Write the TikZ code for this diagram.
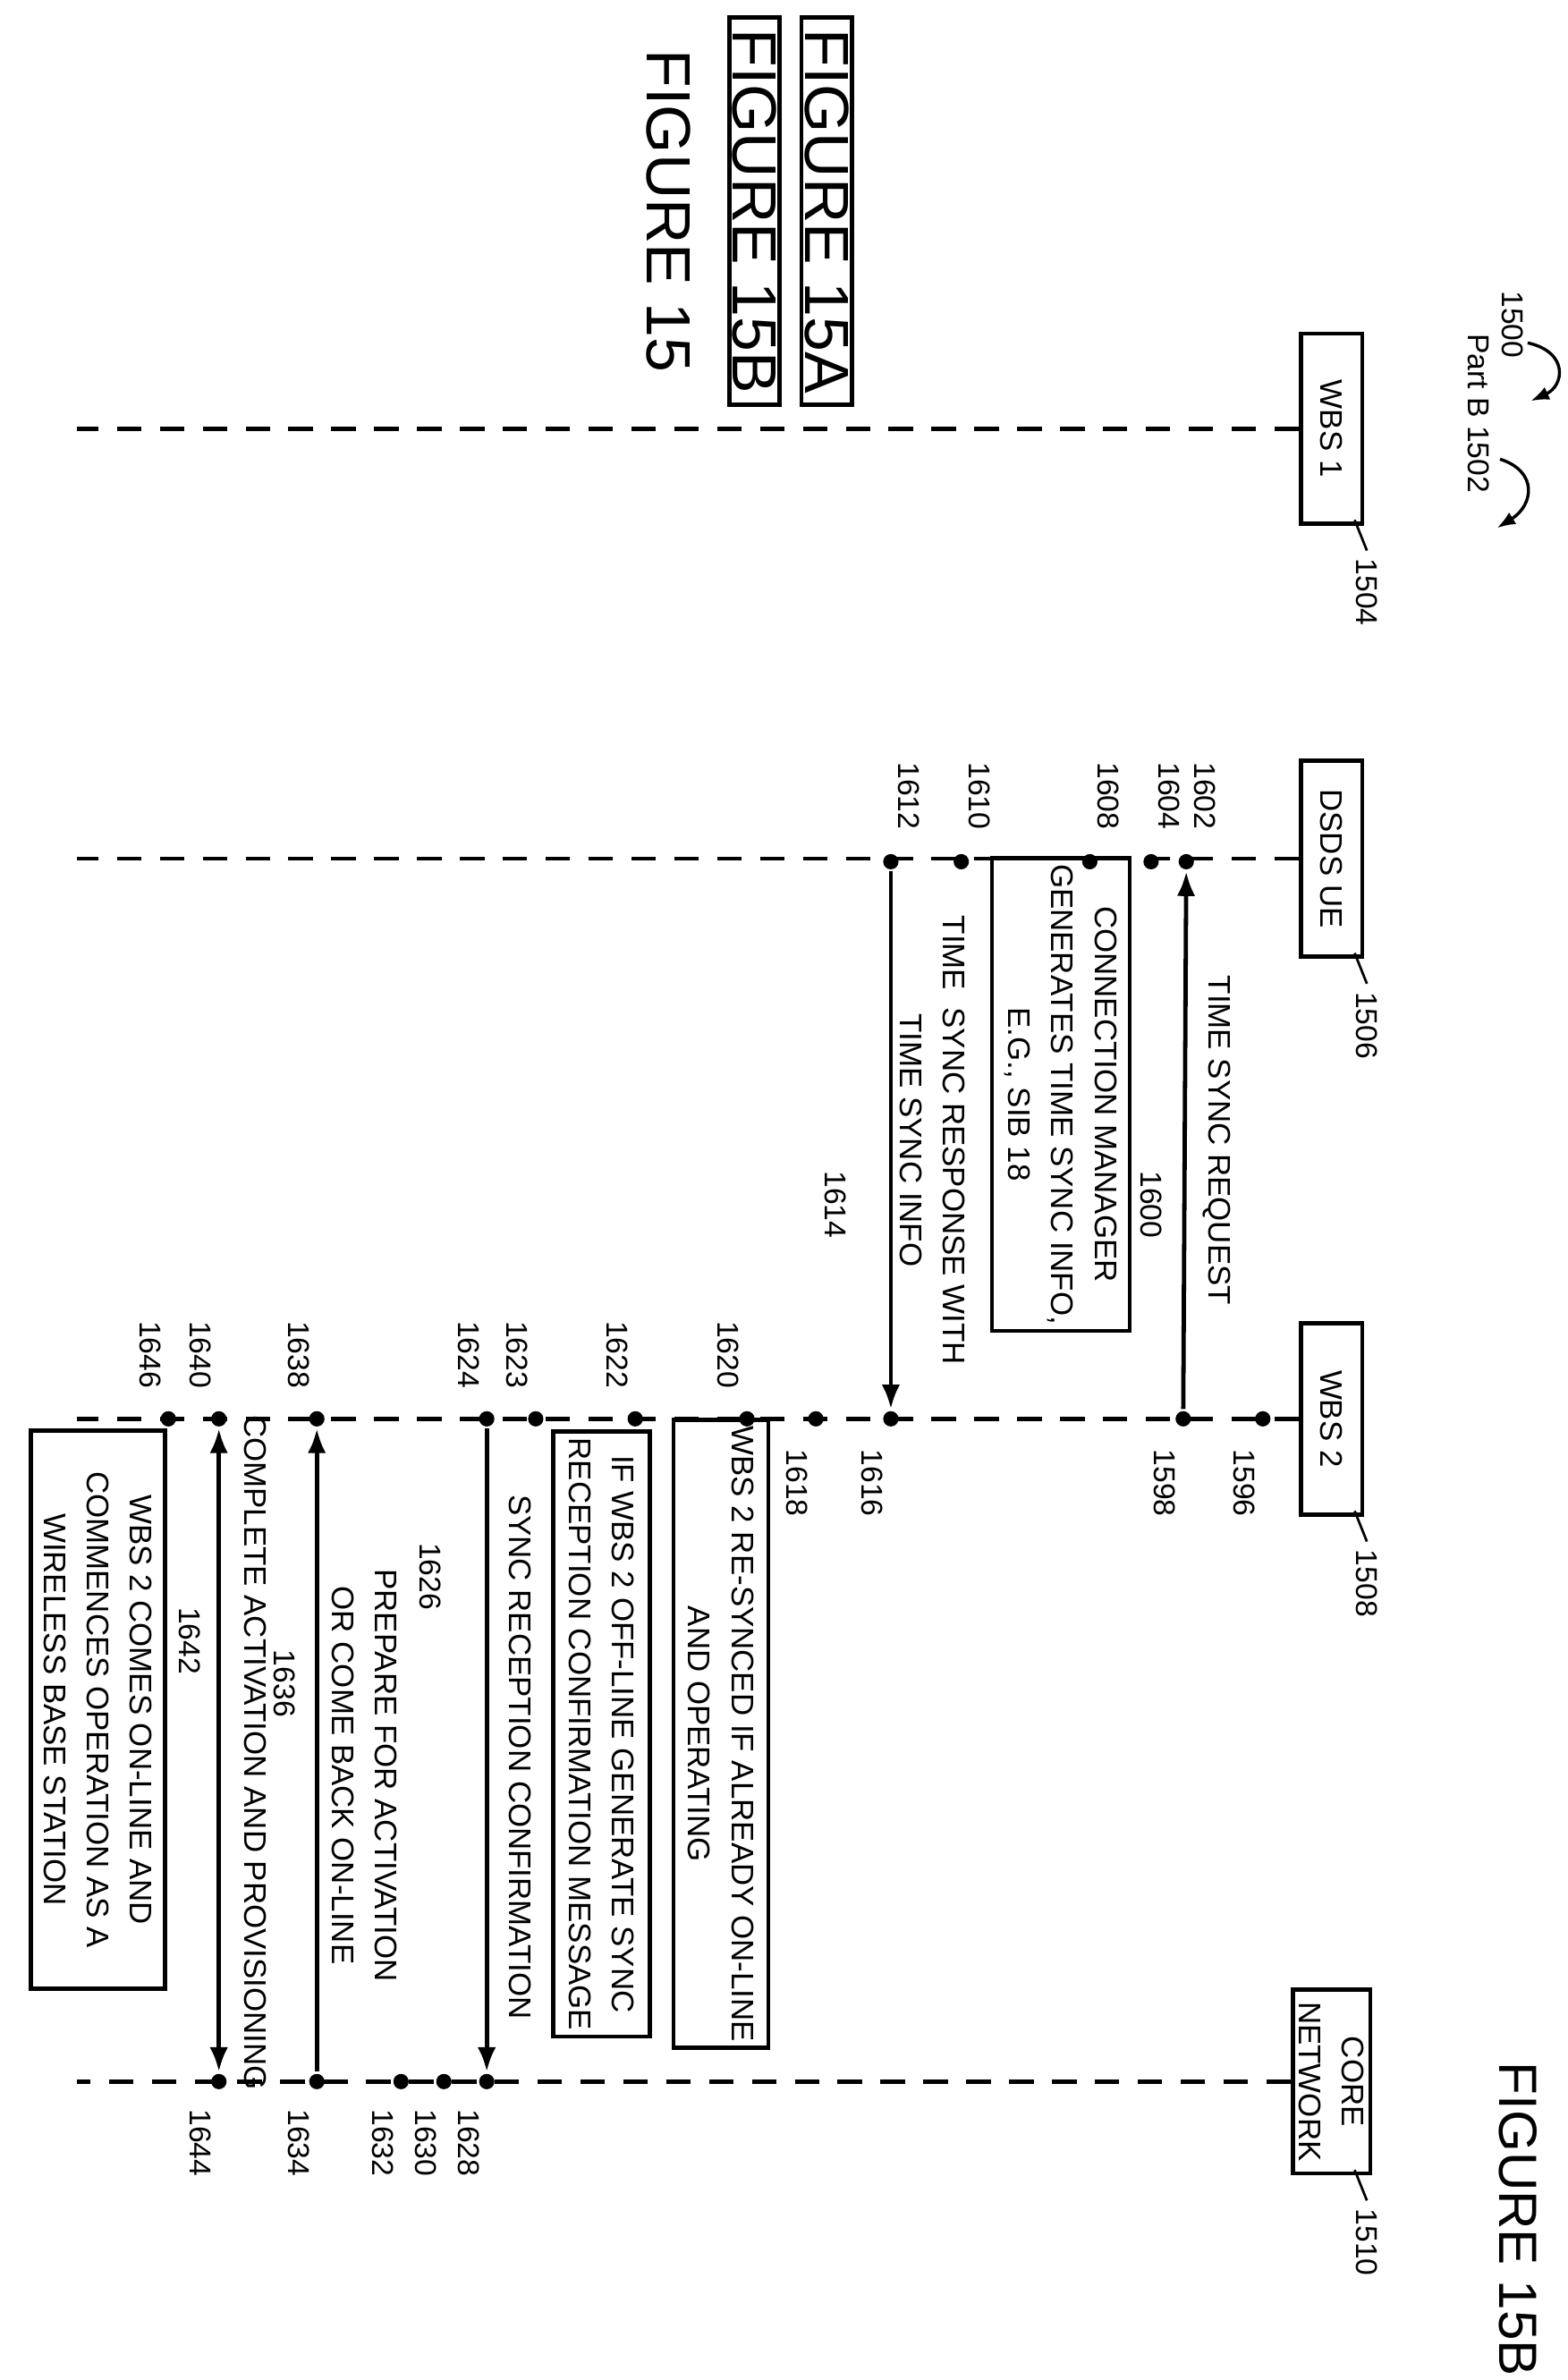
\documentclass[tikz,border=0pt]{standalone}
\usepackage{fontspec}
\setmainfont{Liberation Sans}
\usetikzlibrary{positioning, arrows.meta, calc}
\tikzset{
	every picture/.style={line width=.7mm, x=.025cm, y=-.025cm},
	lbl/.style={rotate=-90, font=\fontsize{14}{17}\selectfont, inner sep=1mm},
	ent/.style={draw, rotate=-90, font=\fontsize{14.5}{20}\selectfont, align=center, inner sep=1mm},
	txt/.style={rotate=-90, font=\fontsize{14.5}{20}\selectfont, align=center, inner sep=0mm},
	fig/.style={rotate=-90, font=\fontsize{29}{30}\selectfont, inner sep=.5mm},
	life/.style={dashed, dash pattern=on 4mm off 3mm},
	dot/.style={circle, fill=black, inner sep=0mm, minimum size=2.5mm},
	msg/.style={-{Latex[length=4mm,width=3mm]}},
}
\begin{document}
\begin{tikzpicture}
\useasboundingbox[fill=white] (0,0) rectangle (1024,1555);

% entities
\foreach \nm/\txt/\y/\w/\ref in {wa/WBS 1/280/124/1504, ue/DSDS UE/561/128/1506, wb/WBS 2/927/125/1508, cn/{CORE\\NETWORK}/1360/120/1510} {
	\node[ent, minimum width=\w*.025cm, minimum height=1cm] (\nm) at (870,\y) {\txt};
	\draw[life] (\nm.south) -- (50,\y);
	\node[lbl] (r\nm) at (893,\y+\w/2+45) {\ref};
	\draw[line width=.4mm] (r\nm.west) -- ++(-8,-20);
}

% overall references
\node[lbl] (r1500) at (988,212) {1500};
\draw[line width=.5mm, -{Latex[length=3mm]}] (998,224) .. controls (1025,230) and (1022,252) .. (1000,262);
\node[lbl] (r1502) at (966,270) {Part B 1502};
\draw[line width=.5mm, -{Latex[length=3mm]}] (980,300) .. controls (1005,308) and (1002,330) .. (978,345);

% figure labels
\node[fig, draw, minimum width=253*.025cm] (f15a) at (540,138) {FIGURE 15A};
\node[fig, draw, minimum width=253*.025cm] (f15b) at (493,138) {FIGURE 15B};
\node[fig] (f15) at (437,138) {FIGURE 15};
\node[fig, font=\fontsize{25}{26}\selectfont] (fig) at (992,1450) {FIGURE 15B};

% events on DSDS UE
\foreach \x/\n in {775/1602, 752/1604, 712/1608, 628/1610, 582/1612} {
	\node[dot] (d\n) at (\x,563) {};
	\node[lbl] (l\n) at (\x+12,520) {\n};
}
% events on WBS 2
\foreach \x/\n/\s in {825/1596/1, 773/1598/1, 582/1616/1, 533/1618/1, 488/1620/-1, 415/1622/-1, 350/1623/-1, 318/1624/-1, 207/1638/-1, 143/1640/-1, 110/1646/-1} {
	\node[dot] (d\n) at (\x,927) {};
	\node[lbl] (l\n) at (\x-12,927+42*\s) {\n};
}
% events on core network
\foreach \x/\n in {318/1628, 290/1630, 262/1632, 207/1634, 143/1644} {
	\node[dot] (d\n) at (\x,1360) {};
	\node[lbl] (l\n) at (\x-12,1400) {\n};
}

% messages
\draw[msg] (d1598) -- (d1602);
\node[txt] (m1600) at (795,745) {TIME SYNC REQUEST};
\node[lbl] (l1600) at (752,787) {1600};
\draw[msg] (d1612) -- (d1616);
\node[txt] (m1614) at (609,745) {TIME\ \ SYNC RESPONSE WITH\\TIME SYNC INFO};
\node[lbl] (l1614) at (546,787) {1614};
\draw[msg] (d1624) -- (d1628);
\node[txt] (m1624) at (340,1148) {SYNC RECEPTION CONFIRMATION};
\node[lbl] (l1626) at (281,1030) {1626};
\draw[msg] (d1634) -- (d1638);
\node[txt] (m1636) at (238,1160) {PREPARE FOR ACTIVATION\\OR COME BACK ON-LINE};
\node[lbl] (l1636) at (186,1100) {1636};
\draw[msg, {Latex[length=4mm,width=3mm]}-{Latex[length=4mm,width=3mm]}] (d1640) -- (d1644);
\node[txt] (m1642) at (167,1145) {COMPLETE ACTIVATION AND PROVISIONING};
\node[lbl] (l1642) at (124,1072) {1642};

% actions
\node[ent, minimum width=286*.025cm, minimum height=90*.025cm] (a1608) at (693,715) {CONNECTION MANAGER\\GENERATES TIME SYNC INFO,\\E.G., SIB 18};
\node[ent, minimum width=393*.025cm, minimum height=62*.025cm] (a1620) at (471,1133) {WBS 2 RE-SYNCED IF ALREADY ON-LINE\\AND OPERATING};
\node[ent, minimum width=393*.025cm, minimum height=63*.025cm] (a1622) at (393,1133) {IF WBS 2 OFF-LINE GENERATE SYNC\\RECEPTION CONFIRMATION MESSAGE};
\node[ent, minimum width=365*.025cm, minimum height=88*.025cm] (a1646) at (64,1117) {WBS 2 COMES ON-LINE AND\\COMMENCES OPERATION AS A\\WIRELESS BASE STATION};
\end{tikzpicture}
\end{document}
